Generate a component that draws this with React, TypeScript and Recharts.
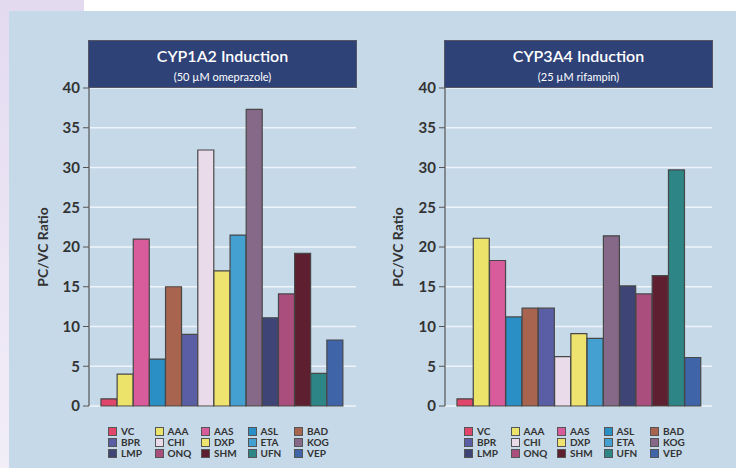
import { BarChart, Bar, Cell, XAxis, YAxis, CartesianGrid } from 'recharts'

const categories = ['VC', 'AAA', 'AAS', 'ASL', 'BAD', 'BPR', 'CHI', 'DXP', 'ETA', 'KOG', 'LMP', 'ONQ', 'SHM', 'UFN', 'VEP']
const colors = [
  '#e0456a', '#ece46a', '#d85c9c', '#2a8fc4', '#a8644f',
  '#5a5ea4', '#eadbeb', '#eee36e', '#44a0d0', '#866889',
  '#3e4576', '#aa4e7e', '#5e1f30', '#2e8585', '#3f65a8',
]
const cyp1a2Values = [0.9, 4.0, 21.0, 5.9, 15.0, 9.0, 32.2, 17.0, 21.5, 37.3, 11.1, 14.1, 19.2, 4.1, 8.3]
const cyp3a4Values = [0.9, 21.1, 18.3, 11.2, 12.3, 12.3, 6.2, 9.1, 8.5, 21.4, 15.1, 14.1, 16.4, 29.7, 6.1]
const yTicks = [0, 5, 10, 15, 20, 25, 30, 35, 40]

const FONT = 'Lato, "Open Sans", sans-serif'
const PLOT_W = 267

interface PanelProps {
  left: number
  width: number
  axisWidth: number
  values: number[]
  title: string
  subtitle: string
  padLeft: number
  padRight: number
  labelOffset: number
  legendLeft: number
}

function Panel({ left, width, axisWidth, values, title, subtitle, padLeft, padRight, labelOffset, legendLeft }: PanelProps) {
  const data = categories.map((c, i) => ({ name: c, value: values[i] }))
  return (
    <div style={{ position: 'absolute', left, top: 0, width, height: 468 }}>
      <BarChart
        width={width}
        height={468}
        data={data}
        margin={{ top: 88, right: width - axisWidth - PLOT_W, bottom: 62, left: 0 }}
        barCategoryGap={0}
      >
        <CartesianGrid vertical={false} stroke="#eef4f9" strokeWidth={1.5} />
        <XAxis
          dataKey="name"
          tick={false}
          tickLine={false}
          height={0}
          axisLine={{ stroke: '#555', strokeWidth: 1.2 }}
          padding={{ left: padLeft, right: padRight }}
        />
        <YAxis
          width={axisWidth}
          domain={[0, 40]}
          ticks={yTicks}
          tickSize={6}
          tickMargin={3}
          axisLine={{ stroke: '#555', strokeWidth: 1.2 }}
          tickLine={{ stroke: '#555' }}
          tick={{ fontSize: 15, fill: '#333', fontWeight: 700, fontFamily: FONT }}
          label={{
            value: 'PC/VC Ratio',
            angle: -90,
            position: 'insideLeft',
            offset: labelOffset,
            textAnchor: 'middle',
            style: { fontSize: 14, fill: '#333', fontWeight: 700, fontFamily: FONT, textAnchor: 'middle' },
          }}
        />
        <YAxis
          yAxisId="frame"
          orientation="right"
          width={0}
          domain={[0, 40]}
          tick={false}
          tickLine={false}
          axisLine={{ stroke: '#555', strokeWidth: 1.5 }}
        />
        <Bar dataKey="value" stroke="#474747" strokeWidth={1.2} isAnimationActive={false}>
          {data.map((d, i) => (
            <Cell key={d.name} fill={colors[i]} />
          ))}
        </Bar>
      </BarChart>
      <div
        style={{
          position: 'absolute',
          left: axisWidth - 1,
          top: 40,
          width: PLOT_W + 2,
          height: 48,
          background: '#2e4278',
          border: '1px solid #556',
          boxSizing: 'border-box',
          color: '#fff',
          textAlign: 'center',
          fontFamily: FONT,
        }}
      >
        <div style={{ fontSize: 16, fontWeight: 600, marginTop: 4, lineHeight: '21px' }}>{title}</div>
        <div style={{ fontSize: 11, fontWeight: 400, lineHeight: '15px', marginTop: 3 }}>{subtitle}</div>
      </div>
      <div
        style={{
          position: 'absolute',
          left: legendLeft,
          top: 426,
          display: 'grid',
          gridTemplateColumns: 'repeat(5, 46.5px)',
          rowGap: 1,
          fontFamily: FONT,
          fontSize: 10,
          fontWeight: 700,
          color: '#333',
        }}
      >
        {categories.map((c, i) => (
          <div key={c} style={{ display: 'flex', alignItems: 'center', height: 10 }}>
            <span
              style={{
                display: 'inline-block',
                width: 7,
                height: 7,
                background: colors[i],
                border: '1px solid #555',
                marginRight: 4,
              }}
            />
            {c}
          </div>
        ))}
      </div>
    </div>
  )
}

export default function App() {
  return (
    <div style={{ position: 'absolute', left: 0, top: 0, width: 736, height: 468, background: '#fff', overflow: 'hidden' }}>
      <div
        style={{
          position: 'absolute',
          left: 0,
          top: 0,
          width: 84,
          height: 468,
          background: 'linear-gradient(180deg, #e3daf0 0%, #f2eef8 100%)',
        }}
      />
      <div style={{ position: 'absolute', left: 9, top: 11, width: 727, height: 457, background: '#c6d9e8' }} />
      <Panel
        left={0}
        width={370}
        axisWidth={89}
        values={cyp1a2Values}
        title="CYP1A2 Induction"
        subtitle="(50 µM omeprazole)"
        padLeft={12}
        padRight={13}
        labelOffset={43}
        legendLeft={108}
      />
      <Panel
        left={360}
        width={376}
        axisWidth={85}
        values={cyp3a4Values}
        title="CYP3A4 Induction"
        subtitle="(25 µM rifampin)"
        padLeft={12}
        padRight={11}
        labelOffset={38}
        legendLeft={104}
      />
    </div>
  )
}
